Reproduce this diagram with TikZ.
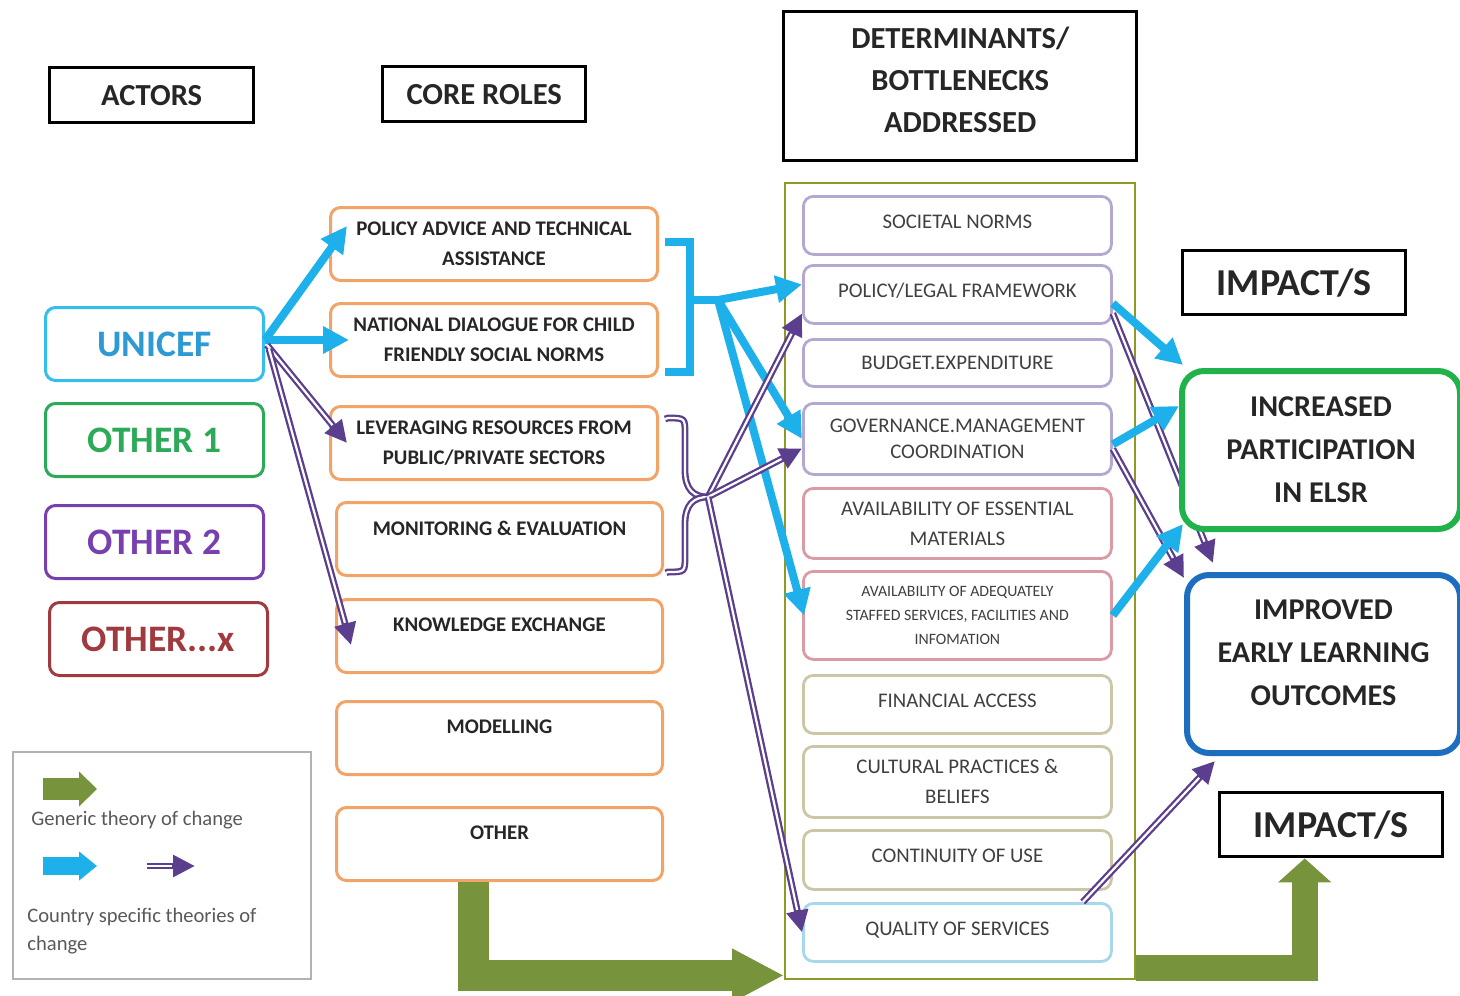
\documentclass[tikz,border=0pt]{standalone}
\usepackage{fontspec}
\setmainfont{Carlito}
\usetikzlibrary{arrows.meta}
\definecolor{cyanA}{HTML}{1DB0EA}
\definecolor{purp}{HTML}{5B3F8E}
\definecolor{greenA}{HTML}{77933C}
\definecolor{orangeB}{HTML}{F2A468}
\definecolor{detP}{HTML}{B4A8D0}
\definecolor{detR}{HTML}{DB9AA4}
\definecolor{detO}{HTML}{CBC7A6}
\definecolor{detB}{HTML}{A6D7EC}
\definecolor{outerO}{HTML}{8F9A24}
\definecolor{uniC}{HTML}{35BDEE}
\definecolor{uniT}{HTML}{2E9AD4}
\definecolor{oneC}{HTML}{2DAA57}
\definecolor{twoC}{HTML}{7840AE}
\definecolor{xC}{HTML}{A13A3F}
\definecolor{incG}{HTML}{20B24B}
\definecolor{impB}{HTML}{1D6EBE}
\definecolor{txtD}{HTML}{262626}
\definecolor{txtG}{HTML}{404040}
\definecolor{legT}{HTML}{595959}
\pgfdeclarelayer{top}
\pgfsetlayers{main,top}
\begin{document}
\begin{tikzpicture}[x=0.5pt,y=-0.5pt,
  hdr/.style={draw=black, line width=1.7pt, anchor=north west, inner sep=0pt, align=center, text=txtD, font=\bfseries\fontsize{15.3}{21}\selectfont},
  actor/.style={rounded corners=5pt, line width=1.5pt, fill=white, anchor=north west, inner sep=0pt, minimum width=109pt, minimum height=36.5pt, font=\bfseries\fontsize{18.7}{22}\selectfont},
  role/.style={draw=orangeB, rounded corners=5pt, line width=1.5pt, fill=white, anchor=north west, inner sep=0pt, minimum height=36.5pt, align=center, text=txtD, font=\bfseries\fontsize{10.4}{15}\selectfont},
  det/.style={rounded corners=5pt, line width=1.4pt, fill=white, anchor=north west, inner sep=0pt, minimum width=154pt, align=center, text=txtG, font=\fontsize{10.4}{13}\selectfont},
  impact/.style={rounded corners=11pt, line width=3pt, fill=white, anchor=north west, inner sep=0pt, align=center, text=txtD, font=\bfseries\fontsize{15.1}{21.5}\selectfont},
  cy/.style={draw=cyanA, line width=4pt, -{Triangle[length=13pt,width=13pt]}},
  cyl/.style={draw=cyanA, line width=4pt, line join=miter},
  dbl/.style={draw=white, line width=1.1pt, shorten >=11.5pt, preaction={draw=purp, line width=3.4pt, shorten >=0pt, -{Triangle[length=11pt,width=10.5pt]}}},
  dbll/.style={draw=white, line width=1.1pt, preaction={draw=purp, line width=3.4pt}},
  garrow/.style={draw=greenA, line join=miter}
]
\useasboundingbox (0,0) rectangle (1460,995);

% headers
\node[hdr, minimum width=102pt, minimum height=27.5pt] (actH) at (48,66) {ACTORS};
\node[hdr, minimum width=101.5pt, minimum height=27.5pt] (roleH) at (381,65) {CORE ROLES};
\node[hdr, minimum width=176.5pt, minimum height=74.5pt] (detH) at (782,10) {DETERMINANTS/\\BOTTLENECKS\\ADDRESSED\\[-15pt]\mbox{}};
\node[hdr, minimum width=111.5pt, minimum height=32pt, font=\bfseries\fontsize{19}{22}\selectfont] (imp1) at (1181,249) {IMPACT/S};
\node[hdr, minimum width=111.5pt, minimum height=32pt, font=\bfseries\fontsize{19}{22}\selectfont] (imp2) at (1218,791) {IMPACT/S};

% actors
\node[actor, draw=uniC, text=uniT] (unicef) at (44,306) {UNICEF};
\node[actor, draw=oneC, text=oneC] (oth1) at (44,402) {OTHER 1};
\node[actor, draw=twoC, text=twoC] (oth2) at (44,504) {OTHER 2};
\node[actor, draw=xC, text=xC] (othx) at (48,601) {OTHER...x};

% core roles
\node[role, minimum width=163.5pt] (pol) at (329,206) {POLICY ADVICE AND TECHNICAL\\ASSISTANCE};
\node[role, minimum width=163.5pt] (nat) at (329,302) {NATIONAL DIALOGUE FOR CHILD\\FRIENDLY SOCIAL NORMS};
\node[role, minimum width=163.5pt] (lev) at (329,405) {LEVERAGING RESOURCES FROM\\PUBLIC/PRIVATE SECTORS};
\node[role, minimum width=163pt] (mon) at (335,501) {MONITORING \& EVALUATION\\[-4pt]\mbox{}};
\node[role, minimum width=163pt] (know) at (335,598) {KNOWLEDGE EXCHANGE\\[-4pt]\mbox{}};
\node[role, minimum width=163pt] (mod) at (335,700) {MODELLING\\[-4pt]\mbox{}};
\node[role, minimum width=163pt] (oth) at (335,806) {OTHER\\[-4pt]\mbox{}};

% determinants
\node[draw=outerO, line width=1.2pt, anchor=north west, inner sep=0pt, minimum width=175pt, minimum height=398pt] (outer) at (784,182) {};
\node[det, draw=detP, minimum height=29pt] (soc) at (802,195) {SOCIETAL NORMS\\[-9pt]\mbox{}};
\node[det, draw=detP, minimum height=29pt] (plf) at (802,264) {POLICY/LEGAL FRAMEWORK\\[-9pt]\mbox{}};
\node[det, draw=detP, minimum height=23.5pt] (bud) at (802,338) {BUDGET.EXPENDITURE};
\node[det, draw=detP, minimum height=35.5pt] (gov) at (802,402) {GOVERNANCE.MANAGEMENT\\COORDINATION};
\node[det, draw=detR, minimum height=35pt, font=\fontsize{10.4}{15}\selectfont] (ava1) at (802,487) {AVAILABILITY OF ESSENTIAL\\MATERIALS};
\node[det, draw=detR, minimum height=44pt, font=\fontsize{7.9}{12}\selectfont] (ava2) at (802,570) {AVAILABILITY OF ADEQUATELY\\STAFFED SERVICES, FACILITIES AND\\INFOMATION};
\node[det, draw=detO, minimum height=29pt] (fin) at (802,674) {FINANCIAL ACCESS\\[-9pt]\mbox{}};
\node[det, draw=detO, minimum height=35.5pt, font=\fontsize{10.4}{15}\selectfont] (cul) at (802,745) {CULTURAL PRACTICES \&\\BELIEFS};
\node[det, draw=detO, minimum height=29.5pt] (con) at (802,829) {CONTINUITY OF USE\\[-9pt]\mbox{}};
\node[det, draw=detB, minimum height=29pt] (qual) at (802,902) {QUALITY OF SERVICES\\[-9pt]\mbox{}};

% impacts (top layer)
\begin{pgfonlayer}{top}
\node[impact, draw=incG, minimum width=139pt, minimum height=79pt] (inc) at (1179,368) {INCREASED\\PARTICIPATION\\IN ELSR};
\node[impact, draw=impB, minimum width=136.5pt, minimum height=89pt] (imp) at (1184,572) {IMPROVED\\EARLY LEARNING\\OUTCOMES\\[-10pt]\mbox{}};
\end{pgfonlayer}

% legend
\node[draw=gray!60, line width=0.8pt, anchor=north west, minimum width=149pt, minimum height=113.5pt, inner sep=0pt] (leg) at (12,751) {};
\draw[greenA, line width=11pt, -{Triangle[length=9pt,width=17pt]}] (43,789) -- (97,789);
\draw[cyanA, line width=9pt, -{Triangle[length=9pt,width=14pt]}] (43,866) -- (97,866);
\draw[dbl] (147,866) -- (195,866);
\node[anchor=west, inner sep=0pt, text=legT, font=\fontsize{10.3}{14}\selectfont] (legA) at (31,820) {Generic theory of change};
\node[anchor=north west, align=left, inner sep=0pt, text=legT, font=\fontsize{10.3}{14}\selectfont] (legB) at (27,908) {Country specific theories of\\change};

% UNICEF connectors
\draw[cy] ([yshift=2pt]unicef.east) -- ([xshift=9pt,yshift=-10pt]pol.north west);
\draw[cy] ([yshift=2pt]unicef.east) -- ([xshift=10pt]nat.west);
\draw[dbl] ([xshift=1pt,yshift=-0.5pt]unicef.east) -- ([xshift=9pt]lev.west);
\draw[dbl] ([xshift=2pt,yshift=-2.5pt]unicef.east) -- ([xshift=8pt,yshift=-4.5pt]know.west);

% cyan bracket
\coordinate (brC) at (690,300);
\coordinate (hubC) at (718,300);
\draw[cyl] ([xshift=3pt,yshift=1pt]pol.east) -| (brC) |- ([xshift=3pt,yshift=-16pt]nat.east);
\draw[cyl] (brC) -- (hubC);
\draw[cy] (hubC) -- ([yshift=5pt]plf.west);
\draw[cy] (hubC) -- (gov.west);
\draw[cy] (hubC) -- ([xshift=1pt]ava2.west);

% purple bracket
\coordinate (hubP) at (708,497);
\draw[dbll] ([xshift=3pt,yshift=12pt]lev.east) -- (668,418) .. controls (685,418) .. (685,434) -- (685,470) .. controls (685,490) and (694,497) .. (hubP);
\draw[dbll] ([xshift=1pt,yshift=-17pt]mon.east) -- (668,572) .. controls (685,572) .. (685,556) -- (685,524) .. controls (685,504) and (694,497) .. (hubP);
\draw[dbl] (hubP) -- ([yshift=-9.5pt]plf.west);
\draw[dbl] (hubP) -- ([yshift=-4.75pt]gov.west);
\draw[dbl] (hubP) -- (qual.west);

% right side
\draw[dbl] ([yshift=-9.5pt]plf.east) -- ([xshift=14.5pt,yshift=4.5pt]imp.north west);
\draw[dbl] ([yshift=-5pt]gov.east) -- ([yshift=-3pt]imp.north west);
\draw[dbl] ([xshift=-15pt]qual.north east) -- ([xshift=15.5pt,yshift=-2.5pt]imp.south west);
\draw[cy] ([yshift=-4.5pt]plf.east) -- ([xshift=2pt,yshift=1.5pt]inc.north west);
\draw[cy] ([yshift=-2.75pt]gov.east) -- ([yshift=22pt]inc.west);
\draw[cy] (ava2.east) -- ([xshift=2pt,yshift=4pt]inc.south west);

% green generic arrows
\draw[garrow, line width=15.5pt, -{Triangle[length=26pt,width=25pt]}] ([xshift=-13pt]oth.south) |- ([yshift=2.5pt]outer.south west);
\draw[garrow, line width=13pt, -{Triangle[length=12pt,width=26pt]}] ([yshift=6pt]outer.south east) -| ([xshift=-13.25pt]imp2.south);
\end{tikzpicture}
\end{document}
